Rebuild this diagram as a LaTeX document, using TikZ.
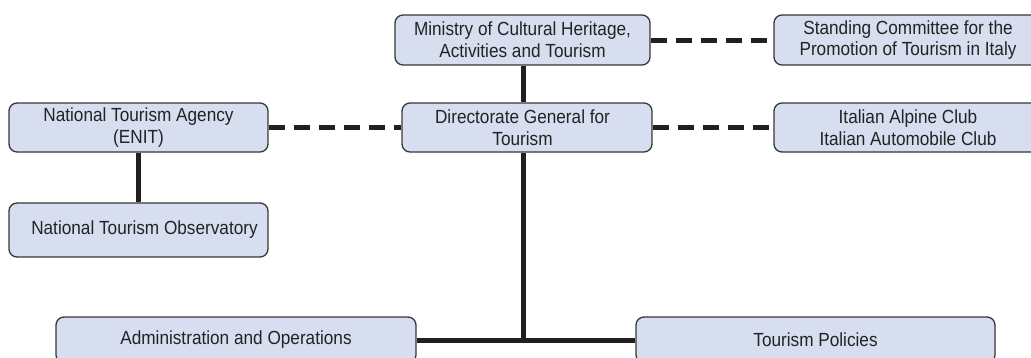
\documentclass[tikz,border=0pt]{standalone}
\usepackage{fontspec}
\setmainfont{Liberation Sans}[FakeStretch=0.905]
\definecolor{boxfill}{RGB}{214,222,240}
\definecolor{boxline}{RGB}{55,55,55}
\definecolor{txt}{RGB}{35,35,35}
\definecolor{conn}{RGB}{35,31,32}
\tikzset{
  orgbox/.style={draw=boxline, line width=1.3pt, fill=boxfill, rounded corners=8pt,
    align=center, inner sep=0pt, text=txt,
    font=\fontsize{19}{21.7}\selectfont},
  solidlink/.style={draw=conn, line width=5pt},
  dashlink/.style={draw=conn, line width=5pt, dash pattern=on 16pt off 9pt}
}
\begin{document}
\begin{tikzpicture}[x=1pt,y=-1pt]
\useasboundingbox (0,0) rectangle (1031,357);
\clip (0,0) rectangle (1031,357);
\coordinate (junc) at (523,340);
\node[orgbox, minimum width=255pt, minimum height=50pt] (min) at (522.5,40) {Ministry of Cultural Heritage,\\Activities and Tourism};
\node[orgbox, minimum width=268pt, minimum height=50pt] (std) at (908,40) {Standing Committee for the\\Promotion of Tourism in Italy};
\node[orgbox, minimum width=250pt, minimum height=49pt] (dir) at (527,127.5) {\hspace*{-9pt}Directorate General for\\\hspace*{-9pt}Tourism};
\node[orgbox, minimum width=268pt, minimum height=49pt] (ita) at (908,127.5) {Italian Alpine Club\\Italian Automobile Club};
\node[orgbox, minimum width=259pt, minimum height=49pt] (nta) at (138.5,127.5) {National Tourism Agency\\(ENIT)};
\node[orgbox, minimum width=259pt, minimum height=54pt] (obs) at (138.5,230) {\hspace*{12pt}National Tourism Observatory};
\node[orgbox, minimum width=360pt, minimum height=46pt] (adm) at (236,340) {Administration and Operations};
\node[orgbox, minimum width=359pt, minimum height=46pt] (tp) at (815.5,340) {Tourism Policies};
\draw[solidlink] (min.south -| junc) -- (dir.north -| junc);
\draw[solidlink] (dir.south -| junc) -- (junc);
\draw[solidlink] (adm.east) -- (tp.west);
\draw[solidlink] (nta.south) -- (obs.north);
\draw[dashlink] (min.east) -- (std.west);
\draw[dashlink] (nta.east) -- (dir.west);
\draw[dashlink] (dir.east) -- (ita.west);
\end{tikzpicture}
\end{document}
